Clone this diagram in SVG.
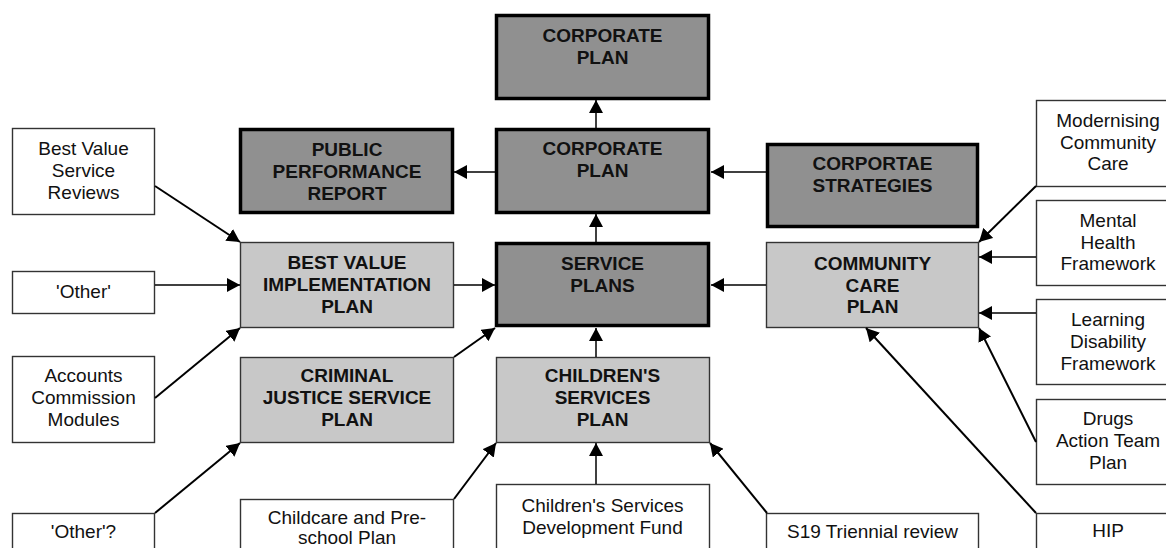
<svg xmlns="http://www.w3.org/2000/svg" width="1166" height="548" viewBox="0 0 1166 548">
  <defs>
    <marker id="arrow" markerUnits="userSpaceOnUse" markerWidth="14" markerHeight="14" refX="13" refY="7" orient="auto">
      <path d="M0,0 L13,7 L0,14 z" fill="#000"/>
    </marker>
    <style>
      .dark rect { fill: #909090; stroke: #000; stroke-width: 3.5; }
      .light rect { fill: #c8c8c8; stroke: #333; stroke-width: 1.4; }
      .plain rect { fill: #fff; stroke: #333; stroke-width: 1.4; }
      .dark text, .light text { font-family: "Liberation Sans", Arial, sans-serif; font-weight: bold; font-size: 19px; fill: #111; text-anchor: middle; }
      .plain text { font-family: "Liberation Sans", Arial, sans-serif; font-size: 19px; fill: #111; text-anchor: middle; }
      #connectors line { stroke: #000; stroke-width: 1.5; marker-end: url(#arrow); }
      #connectors line.diag { stroke-width: 2; }
    </style>
  </defs>
  <rect width="1166" height="548" fill="#fff"/>

  <!-- Central chain -->
  <g id="corporate-plan-top" class="dark">
    <rect x="496.5" y="15.5" width="212" height="83"/>
    <text x="602.5" y="42">CORPORATE</text>
    <text x="602.5" y="64">PLAN</text>
  </g>
  <g id="corporate-plan" class="dark">
    <rect x="496.5" y="129.5" width="212" height="83"/>
    <text x="602.5" y="155">CORPORATE</text>
    <text x="602.5" y="177">PLAN</text>
  </g>
  <g id="public-performance-report" class="dark">
    <rect x="240.5" y="129.5" width="212" height="83"/>
    <text x="347" y="156">PUBLIC</text>
    <text x="347" y="178">PERFORMANCE</text>
    <text x="347" y="200">REPORT</text>
  </g>
  <g id="corporate-strategies" class="dark">
    <rect x="767.5" y="144.5" width="210" height="82"/>
    <text x="872.5" y="170">CORPORTAE</text>
    <text x="872.5" y="192">STRATEGIES</text>
  </g>
  <g id="service-plans" class="dark">
    <rect x="496.5" y="243.5" width="212" height="82"/>
    <text x="602.5" y="270">SERVICE</text>
    <text x="602.5" y="292">PLANS</text>
  </g>

  <!-- Second tier plans -->
  <g id="best-value-implementation-plan" class="light">
    <rect x="240.5" y="242.5" width="213" height="85"/>
    <text x="347" y="269">BEST VALUE</text>
    <text x="347" y="291">IMPLEMENTATION</text>
    <text x="347" y="313">PLAN</text>
  </g>
  <g id="community-care-plan" class="light">
    <rect x="766.5" y="242.5" width="212" height="85"/>
    <text x="872.5" y="270">COMMUNITY</text>
    <text x="872.5" y="292">CARE</text>
    <text x="872.5" y="313">PLAN</text>
  </g>
  <g id="criminal-justice-service-plan" class="light">
    <rect x="240.5" y="357.5" width="213" height="85"/>
    <text x="347" y="382">CRIMINAL</text>
    <text x="347" y="404">JUSTICE SERVICE</text>
    <text x="347" y="426">PLAN</text>
  </g>
  <g id="childrens-services-plan" class="light">
    <rect x="496.5" y="357.5" width="213" height="85"/>
    <text x="602.5" y="382">CHILDREN'S</text>
    <text x="602.5" y="404">SERVICES</text>
    <text x="602.5" y="426">PLAN</text>
  </g>

  <!-- Left inputs -->
  <g id="best-value-service-reviews" class="plain">
    <rect x="12.5" y="128.5" width="142" height="86"/>
    <text x="83.5" y="155">Best Value</text>
    <text x="83.5" y="177">Service</text>
    <text x="83.5" y="199">Reviews</text>
  </g>
  <g id="other" class="plain">
    <rect x="12.5" y="271.5" width="142" height="42"/>
    <text x="83.5" y="298">'Other'</text>
  </g>
  <g id="accounts-commission-modules" class="plain">
    <rect x="12.5" y="356.5" width="142" height="86"/>
    <text x="83.5" y="382">Accounts</text>
    <text x="83.5" y="404">Commission</text>
    <text x="83.5" y="426">Modules</text>
  </g>
  <g id="other-query" class="plain">
    <rect x="12.5" y="513.5" width="142" height="50"/>
    <text x="83.5" y="538">'Other'?</text>
  </g>

  <!-- Bottom inputs -->
  <g id="childcare-preschool-plan" class="plain">
    <rect x="240.5" y="499.5" width="213" height="60"/>
    <text x="347" y="524">Childcare and Pre-</text>
    <text x="347" y="544">school Plan</text>
  </g>
  <g id="childrens-services-development-fund" class="plain">
    <rect x="496.5" y="484.5" width="213" height="80"/>
    <text x="602.5" y="512">Children's Services</text>
    <text x="602.5" y="534">Development Fund</text>
  </g>
  <g id="s19-triennial-review" class="plain">
    <rect x="766.5" y="513.5" width="212" height="50"/>
    <text x="872.5" y="538">S19 Triennial review</text>
  </g>
  <g id="hip" class="plain">
    <rect x="1036.5" y="513.5" width="143" height="50"/>
    <text x="1108" y="537">HIP</text>
  </g>

  <!-- Right inputs -->
  <g id="modernising-community-care" class="plain">
    <rect x="1036.5" y="100.5" width="143" height="86"/>
    <text x="1108" y="127">Modernising</text>
    <text x="1108" y="149">Community</text>
    <text x="1108" y="170">Care</text>
  </g>
  <g id="mental-health-framework" class="plain">
    <rect x="1036.5" y="200.5" width="143" height="85"/>
    <text x="1108" y="227">Mental</text>
    <text x="1108" y="249">Health</text>
    <text x="1108" y="270">Framework</text>
  </g>
  <g id="learning-disability-framework" class="plain">
    <rect x="1036.5" y="299.5" width="143" height="85"/>
    <text x="1108" y="326">Learning</text>
    <text x="1108" y="348">Disability</text>
    <text x="1108" y="370">Framework</text>
  </g>
  <g id="drugs-action-team-plan" class="plain">
    <rect x="1036.5" y="399.5" width="143" height="85"/>
    <text x="1108" y="425">Drugs</text>
    <text x="1108" y="447">Action Team</text>
    <text x="1108" y="469">Plan</text>
  </g>

  <g id="connectors">
    <!-- central chain -->
    <line x1="596" y1="128" x2="596" y2="100"/>
    <line x1="596" y1="242" x2="596" y2="214"/>
    <line x1="596" y1="357" x2="596" y2="328"/>
    <line x1="596" y1="484" x2="596" y2="443"/>
    <line x1="495" y1="172" x2="454" y2="172"/>
    <line x1="766" y1="172" x2="711" y2="172"/>
    <line x1="454" y1="285" x2="495" y2="285"/>
    <line x1="766" y1="285" x2="711" y2="285"/>
    <line class="diag" x1="454" y1="357" x2="495" y2="328"/>
    <!-- left inputs -->
    <line class="diag" x1="155" y1="186" x2="240" y2="242"/>
    <line x1="155" y1="285" x2="240" y2="285"/>
    <line class="diag" x1="155" y1="398" x2="240" y2="328"/>
    <line class="diag" x1="155" y1="513" x2="240" y2="443"/>
    <!-- bottom inputs -->
    <line class="diag" x1="454" y1="499" x2="496" y2="443"/>
    <line class="diag" x1="767" y1="513" x2="710" y2="443"/>
    <line class="diag" x1="1036" y1="513" x2="866" y2="328"/>
    <!-- right inputs -->
    <line class="diag" x1="1036" y1="186" x2="979" y2="242"/>
    <line x1="1036" y1="257" x2="979" y2="257"/>
    <line x1="1036" y1="313" x2="979" y2="313"/>
    <line class="diag" x1="1036" y1="442" x2="979" y2="328"/>
  </g>
</svg>
